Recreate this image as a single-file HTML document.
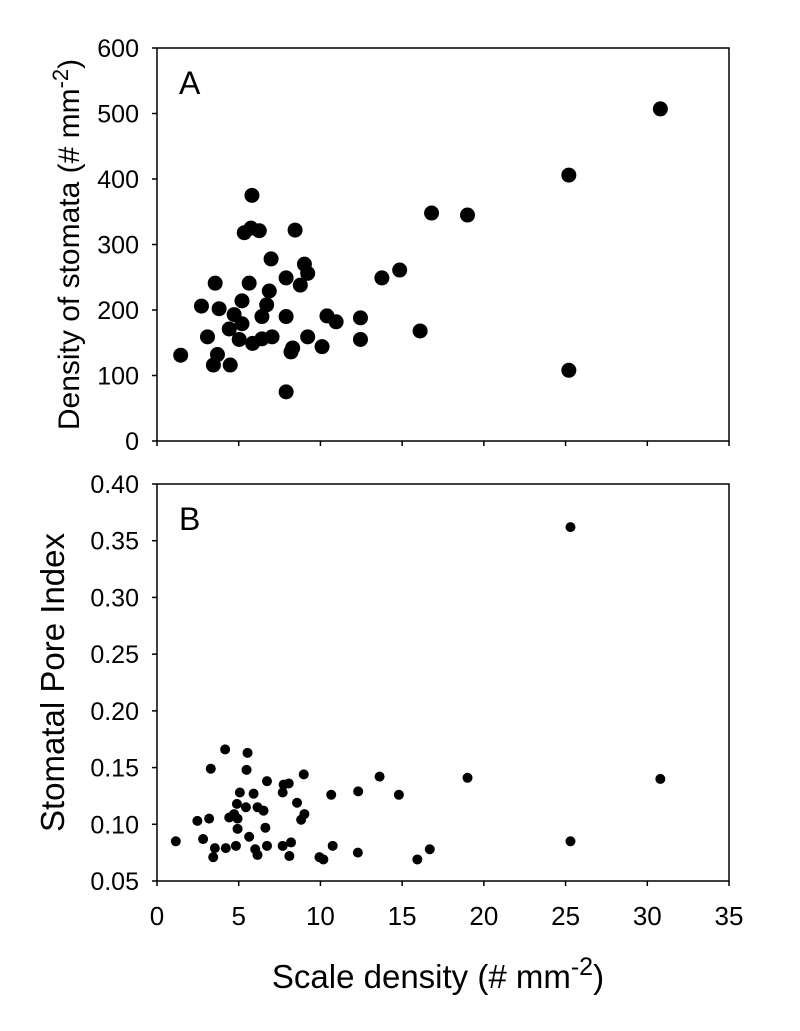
<!DOCTYPE html>
<html><head><meta charset="utf-8"><style>
body{margin:0;background:#fff;}
svg{display:block;font-family:"Liberation Sans",Arial,sans-serif;}
</style></head><body>
<svg id="chart" width="800" height="1031" viewBox="0 0 800 1031" xmlns="http://www.w3.org/2000/svg"></svg>
<script>
const xTicks=[0,5,10,15,20,25,30,35];
const yTicksA=[0,100,200,300,400,500,600];
const yTicksB=[0.05,0.10,0.15,0.20,0.25,0.30,0.35,0.40];
const yTickLabelsB=["0.05","0.10","0.15","0.20","0.25","0.30","0.35","0.40"];
const scaleA=[1.45,2.72,3.09,3.56,3.80,3.70,3.45,4.48,4.42,4.72,5.20,5.20,5.03,5.64,5.81,5.34,5.75,6.26,5.85,6.42,7.04,6.42,6.71,6.87,6.98,7.90,8.45,7.90,7.90,8.30,8.20,8.77,9.02,9.22,9.22,10.1,10.4,10.96,12.45,12.45,13.76,14.85,16.8,19.0,16.1,25.2,25.2,30.8];
const stomata=[131,206,159,241,202,132,116,116,171,193,179,214,155,241,375,318,325,321,149,156,159,190,208,229,278,249,322,190,75,142,136,238,270,256,159,144,191,182,188,155,249,261,348,345,168,406,108,507];
const scaleB=[1.15,2.47,2.82,3.19,3.29,3.54,3.44,4.17,4.21,4.42,4.72,4.93,4.89,5.07,4.93,4.83,5.48,5.54,5.44,5.64,5.91,6.01,6.15,6.15,6.52,6.63,6.73,6.73,7.69,7.75,8.06,7.69,8.20,8.10,8.57,8.82,9.02,8.98,9.94,10.18,10.66,10.75,12.31,12.29,13.62,14.80,15.93,16.69,19.0,25.3,25.3,30.8];
const poreIndex=[0.085,0.103,0.087,0.105,0.149,0.079,0.071,0.166,0.079,0.106,0.109,0.105,0.118,0.128,0.096,0.081,0.148,0.163,0.115,0.089,0.127,0.078,0.073,0.115,0.112,0.097,0.138,0.081,0.128,0.135,0.136,0.081,0.084,0.072,0.119,0.104,0.109,0.144,0.071,0.069,0.126,0.081,0.129,0.075,0.142,0.126,0.069,0.078,0.141,0.362,0.085,0.140];

const NS="http://www.w3.org/2000/svg";
const svg=document.getElementById('chart');
const L=157,R=729;
const xS=v=>L+(v-0)/35*(R-L);
const A={top:48,bot:441,min:0,max:600};
const B={top:484,bot:881,min:0.05,max:0.40};
const yS=(p,v)=>p.bot-(v-p.min)/(p.max-p.min)*(p.bot-p.top);
function mk(tag,attrs,parent){const e=document.createElementNS(NS,tag);for(const k in attrs)e.setAttribute(k,attrs[k]);(parent||svg).appendChild(e);return e;}

function panel(p,name,yt,ytl,xs,ys,r,letter,title,titleX,titleSize){
  const g=mk('g',{});
  
  
  const frame=mk('rect',{x:L,y:p.top,width:R-L,height:p.bot-p.top,fill:'none',stroke:'#000','stroke-width':1.5},g);
  
  
  yt.forEach((v,i)=>{
    const y=yS(p,v);
    const t=mk('line',{x1:L-5,x2:L,y1:y,y2:y,stroke:'#000','stroke-width':1.5},g);
    
    
    const tx=mk('text',{x:139,y:y+9,'font-size':25,'text-anchor':'end'},g);
    tx.textContent=ytl[i];
    
    
  });
  xTicks.forEach(v=>{
    const x=xS(v);
    const t=mk('line',{x1:x,x2:x,y1:p.bot,y2:p.bot+5,stroke:'#000','stroke-width':1.5},g);
    
    
  });
  xs.forEach((v,i)=>{
    const c=mk('circle',{cx:xS(v),cy:yS(p,ys[i]),r:r,fill:'#000'},g);
    
    
  });
  const lt=mk('text',{x:179,y:p.top+46,'font-size':32},g);
  lt.textContent=letter;
  
  
  const cy=(p.top+p.bot)/2;
  const ti=mk('text',{x:titleX,y:cy,'font-size':titleSize,'text-anchor':'middle',transform:`rotate(-90 ${titleX} ${cy})`},g);
  ti.innerHTML=title;
  
  
}
panel(A,'panel-a',yTicksA,yTicksA.map(String),scaleA,stomata,7.5,'A','Density of stomata (# mm<tspan dy="-11" font-size="22">-2</tspan><tspan dy="11">)</tspan>',79,30);
panel(B,'panel-b',yTicksB,yTickLabelsB,scaleB,poreIndex,5,'B','Stomatal Pore Index',64,33);
xTicks.forEach(v=>{
  const tx=mk('text',{x:xS(v),y:925,'font-size':26,'text-anchor':'middle'});
  tx.textContent=String(v);
  
  
});
const xt=mk('text',{x:438,y:988,'font-size':33,'text-anchor':'middle'});
xt.innerHTML='Scale density (# mm<tspan dy="-13" font-size="25">-2</tspan><tspan dy="13">)</tspan>';


</script>
</body></html>
